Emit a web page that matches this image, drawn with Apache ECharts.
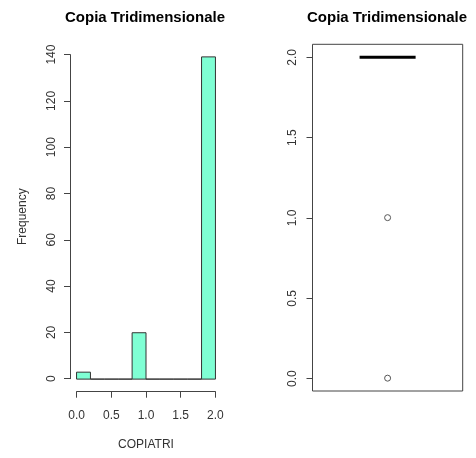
<!DOCTYPE html>
<html><head><meta charset="utf-8">
<script src="https://cdn.jsdelivr.net/npm/echarts@6/dist/echarts.min.js"></script>
<style>html,body{margin:0;padding:0;background:#fff}#c{width:476px;height:458px}</style>
</head><body><div id="c"></div>
<script>
// Histogram data (bins of width 0.2)
const binStart = [0.0, 0.2, 0.4, 0.6, 0.8, 1.0, 1.2, 1.4, 1.6, 1.8];
const binEnd   = [0.2, 0.4, 0.6, 0.8, 1.0, 1.2, 1.4, 1.6, 1.8, 2.0];
const counts   = [3, 0, 0, 0, 20, 0, 0, 0, 0, 139];
const histXTicks = [0, 0.5, 1.0, 1.5, 2.0];
const histYTicks = [0, 20, 40, 60, 80, 100, 120, 140];
// Boxplot data: [min whisker, Q1, median, Q3, max whisker]
const boxStats = [2, 2, 2, 2, 2];
const outliers = [0, 1];
const boxYTicks = [0, 0.5, 1.0, 1.5, 2.0];
const titleText = 'Copia Tridimensionale';
const xName = 'COPIATRI';
const yName = 'Frequency';

const chart = echarts.init(document.getElementById('c'), null, {renderer: 'canvas'});
const FONT = 'Liberation Sans, Arial, sans-serif';
const AX = '#444';
const lab = {color: '#333', fontFamily: FONT, fontSize: 12};
const hiddenAxis = (g, min, max) => ({gridIndex: g, type: 'value', min, max, show: false});

const histData = binStart.map((s, i) => [s, binEnd[i], counts[i]]);

const option = {
  animation: false,
  title: [
    {text: titleText, left: 140, top: 5, textAlign: 'center',
     textStyle: {fontFamily: FONT, fontSize: 15, fontWeight: 'bold', color: '#000'}},
    {text: titleText, left: 382, top: 5, textAlign: 'center',
     textStyle: {fontFamily: FONT, fontSize: 15, fontWeight: 'bold', color: '#000'}}
  ],
  grid: [
    {left: 71, top: 44, width: 150, height: 348},            // 0 hist data
    {left: 70, top: 54.6, width: 1, height: 324.1},          // 1 hist y axis
    {left: 76.6, top: 390.7, width: 138.8, height: 1},       // 2 hist x axis
    {left: 312.5, top: 44.3, width: 150.2, height: 346.7,
     show: true, borderColor: AX, borderWidth: 1, backgroundColor: 'transparent'}, // 3 box frame
    {left: 312.5, top: 57.3, width: 1, height: 321.4}        // 4 box y axis
  ],
  xAxis: [
    hiddenAxis(0, -0.08, 2.08),
    hiddenAxis(1, 0, 1),
    {gridIndex: 2, type: 'value', min: 0, max: 2, interval: 0.5, position: 'bottom',
     axisLine: {show: true, lineStyle: {color: AX, width: 1}},
     axisTick: {show: true, length: 6, lineStyle: {color: AX}},
     splitLine: {show: false},
     axisLabel: Object.assign({margin: 18, formatter: v => v.toFixed(1), showMinLabel: true, showMaxLabel: true}, lab),
     name: xName, nameLocation: 'middle', nameGap: 47,
     nameTextStyle: {color: '#333', fontFamily: FONT, fontSize: 12}},
    hiddenAxis(3, 0.5, 1.5),
    hiddenAxis(4, 0, 1)
  ],
  yAxis: [
    hiddenAxis(0, -5.56, 144.56),
    {gridIndex: 1, type: 'value', min: 0, max: 140, interval: 20, position: 'left',
     axisLine: {show: true, lineStyle: {color: AX, width: 1}},
     axisTick: {show: true, length: 6, lineStyle: {color: AX}},
     splitLine: {show: false},
     axisLabel: Object.assign({rotate: 90, margin: 12, showMinLabel: true, showMaxLabel: true}, lab),
     name: yName, nameLocation: 'middle', nameGap: 41, nameRotate: 90,
     nameTextStyle: {color: '#333', fontFamily: FONT, fontSize: 12}},
    hiddenAxis(2, 0, 1),
    hiddenAxis(3, -0.08, 2.08),
    {gridIndex: 4, type: 'value', min: 0, max: 2, interval: 0.5, position: 'left',
     axisLine: {show: false},
     axisTick: {show: true, length: 6, lineStyle: {color: AX}},
     splitLine: {show: false},
     axisLabel: Object.assign({rotate: 90, margin: 14, formatter: v => v.toFixed(1), showMinLabel: true, showMaxLabel: true}, lab)}
  ],
  series: [
    {type: 'custom', xAxisIndex: 0, yAxisIndex: 0, data: histData,
     renderItem: (params, api) => {
       const p0 = api.coord([api.value(0), 0]);
       const p1 = api.coord([api.value(1), api.value(2)]);
       return {type: 'rect',
         shape: {x: p0[0], y: p1[1], width: p1[0] - p0[0], height: p0[1] - p1[1]},
         style: {fill: '#7FFFD4', stroke: '#333', lineWidth: 1}};
     }},
    {type: 'custom', xAxisIndex: 3, yAxisIndex: 3, data: [[1].concat(boxStats)],
     renderItem: (params, api) => {
       const half = 0.1865;
       const x = api.value(0);
       const med = api.value(3);
       const a = api.coord([x - half, med]);
       const b = api.coord([x + half, med]);
       return {type: 'line', shape: {x1: a[0], y1: a[1], x2: b[0], y2: b[1]},
         style: {stroke: '#000', lineWidth: 3}};
     }},
    {type: 'custom', xAxisIndex: 3, yAxisIndex: 3,
     data: outliers.map(v => [1, v]),
     renderItem: (params, api) => {
       const p = api.coord([api.value(0), api.value(1)]);
       return {type: 'circle', shape: {cx: p[0], cy: p[1], r: 3},
         style: {fill: '#fff', stroke: '#555', lineWidth: 1}};
     }}
  ]
};
chart.setOption(option);
</script>
</body></html>
